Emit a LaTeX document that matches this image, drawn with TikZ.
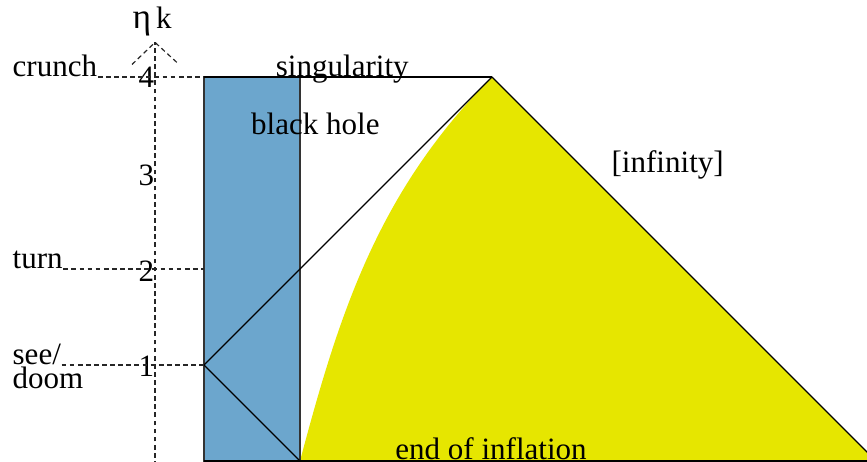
\documentclass[tikz,border=0pt]{standalone}
\usepackage{fontspec}
\setmainfont{Liberation Serif}
\pgfdeclarelayer{filllayer}
\pgfdeclarelayer{edgelayer}
\pgfsetlayers{filllayer,edgelayer,main}
\definecolor{holeblue}{RGB}{108,166,205}
\definecolor{inflyellow}{RGB}{230,230,0}
\tikzstyle{bound}=[draw=black, line width=0.4pt]
\tikzstyle{guide}=[draw=black!85, line width=0.35pt, dash pattern=on 1.4pt off 1.0pt]
\tikzstyle{txt}=[inner sep=0pt, font=\fontsize{9.2pt}{11pt}\selectfont]
\tikzstyle{num}=[txt, anchor=center]
\tikzstyle{hole}=[fill=holeblue, draw=black!80, line width=0.5pt]
\tikzstyle{infl}=[fill=inflyellow]

\begin{document}
\begin{tikzpicture}
			\useasboundingbox (-2.125,-0.0104) rectangle (6.906,4.802);
			\clip (-2.125,-0.0104) rectangle (6.906,4.802);
			\coordinate (0) at (0, 0);
			\coordinate (1) at (1, 0);
			\coordinate (2) at (0, 1);
			\coordinate (3) at (0, 4);
			\coordinate (4) at (1, 4);
			\coordinate (5) at (3, 4);
			\coordinate (6) at (7, 0);
			\coordinate (7) at (0, 2);
			\coordinate (ax0) at (-0.51, -0.05);
			\coordinate (ax1) at (-0.51, 4.36);
			\coordinate (axl) at (-0.75, 4.13);
			\coordinate (axr) at (-0.27, 4.14);
			\begin{pgfonlayer}{filllayer}
			\path [style=infl] (1) .. controls (1.4, 1.5) and (1.8, 2.8) .. (5) -- (6) -- cycle;
			\draw [style=hole] (0) rectangle (4);
			\end{pgfonlayer}
			\begin{pgfonlayer}{edgelayer}
			\draw [style=bound] (0) to (6);
			\draw [style=bound] (3) to (5);
			\draw [style=bound] (2) to (5);
			\draw [style=bound] (2) to (1);
			\draw [style=bound] (5) to (6);
			\draw [style=guide] (ax0) to (ax1);
			\draw [style=guide] (axl) to (ax1) to (axr);
			\end{pgfonlayer}
			% axis and levels
			\node [style=txt, anchor=base] (eta) at (-0.54, 4.51) {{\fontsize{10.5pt}{11pt}\selectfont η}\,k};
			\node [style=num] (n4) at (-0.6, 4) {4};
			\node [style=num] (n3) at (-0.6, 2.98) {3};
			\node [style=num] (n2) at (-0.6, 1.98) {2};
			\node [style=num] (n1) at (-0.6, 0.99) {1};
			\node [style=txt, anchor=base west] (crunch) at (-2.0, 4) {crunch};
			\node [style=txt, anchor=base west] (turn) at (-2.0, 2) {turn};
			\node [style=txt, anchor=base west] (see) at (-2.0, 1) {see/};
			\node [style=txt, anchor=base west] (doom) at (-2.0, 0.75) {doom};
			\draw [style=guide] (crunch.base east) to (3);
			\draw [style=guide] (turn.base east) to (7);
			\draw [style=guide] (see.base east) to (2);
			% regions
			\node [style=txt, anchor=base] (sing) at (1.44, 4.0) {singularity};
			\node [style=txt, anchor=base] (bh) at (1.16, 3.40) {black hole};
			\node [style=txt, anchor=base] (inf) at (4.83, 3.01) {[infinity]};
			\node [style=txt, anchor=base] (end) at (2.99, 0.02) {end of inflation};
\end{tikzpicture}
\end{document}
